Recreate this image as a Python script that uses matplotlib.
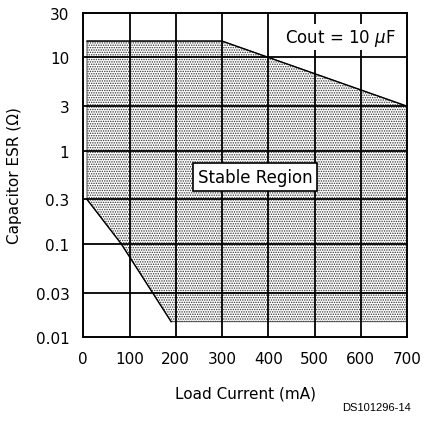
import matplotlib
matplotlib.use("Agg")
import matplotlib.pyplot as plt
from matplotlib.patches import Polygon
import numpy as np

plt.rcParams['hatch.linewidth'] = 0.7
plt.rcParams['hatch.color'] = '#222222'

# Stable region boundary (Load current mA, ESR ohm)
region_current = [8, 300, 700, 700, 190, 82, 8]
region_esr = [15, 15, 3, 0.0146, 0.0146, 0.1, 0.3]

x_ticks = [0, 100, 200, 300, 400, 500, 600, 700]
y_ticks = [0.01, 0.03, 0.1, 0.3, 1, 3, 10, 30]
y_tick_labels = ["0.01", "0.03", "0.1", "0.3", "1", "3", "10", "30"]

fig = plt.figure(figsize=(4.30, 4.27), dpi=100)
ax = fig.add_axes([0.1937, 0.2084, 0.7528, 0.7588])
ax.set_yscale('log')
ax.set_xlim(0, 700)
ax.set_ylim(0.01, 30)

poly = Polygon(np.column_stack([region_current, region_esr]), closed=True,
               facecolor='white', edgecolor='#333333', hatch='.......', linewidth=0.6, zorder=1)
ax.add_patch(poly)
# solid outline for top and diagonal edges
ax.plot(region_current[:3], region_esr[:3], color='black', lw=1.0, zorder=3)
ax.plot(region_current[4:7], region_esr[4:7], color='black', lw=1.0, zorder=3)

for xv in x_ticks[1:-1]:
    ax.axvline(xv, color='black', lw=1.3, zorder=2)
for yv in y_ticks[1:-1]:
    ax.axhline(yv, color='black', lw=1.3, zorder=2)

ax.set_xticks(x_ticks)
ax.set_xticklabels([str(v) for v in x_ticks])
ax.set_yticks(y_ticks)
ax.set_yticklabels(y_tick_labels)
ax.yaxis.set_minor_locator(matplotlib.ticker.NullLocator())
ax.tick_params(length=0, labelsize=11, pad=10)
for s in ax.spines.values():
    s.set_linewidth(1.4)

ax.set_xlabel("Load Current (mA)", fontsize=11, labelpad=14)
ax.set_ylabel("Capacitor ESR (Ω)", fontsize=11, labelpad=10)

ax.text(371, 0.52, "Stable Region", fontsize=12, ha='center', va='center', zorder=5,
        bbox=dict(facecolor='white', edgecolor='black', linewidth=1.2, boxstyle='square,pad=0.3'))
ax.text(555, 16.5, "Cout = 10 $\\mu$F", fontsize=12, ha='center', va='center', zorder=5,
        bbox=dict(facecolor='white', edgecolor='none', boxstyle='square,pad=0.15'))

fig.text(0.955, 0.045, "DS101296-14", fontsize=8, ha='right', va='center', family='Liberation Sans')

fig.savefig("out.png", dpi=100)
